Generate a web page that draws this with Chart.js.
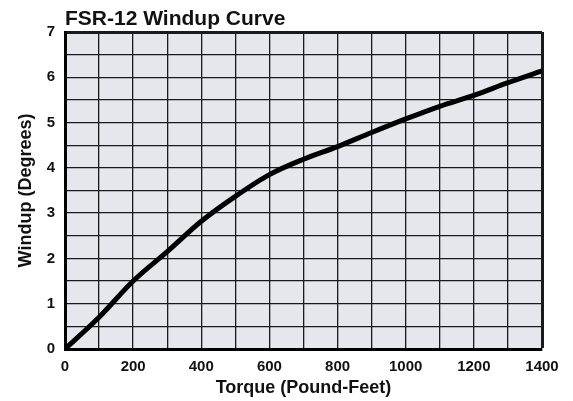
<!DOCTYPE html>
<html lang="en">

<head>
    <meta charset="UTF-8">
    <title>FSR-12 Windup Curve</title>
    <script src="https://cdn.jsdelivr.net/npm/chart.js"></script>
    <style>
        html, body {
            margin: 0;
            padding: 0;
            background: #fff;
        }

        #chart-container {
            width: 573px;
            height: 401px;
        }
    </style>
</head>

<body>
    <div id="chart-container">
        <canvas id="windupChart" width="573" height="401"></canvas>
    </div>

    <script>
        // Values
        const chartTitle = 'FSR-12 Windup Curve';
        const torque = [0, 100, 200, 300, 400, 500, 600, 700, 800, 900, 1000, 1100, 1200, 1300, 1400];
        const windup = [0, 0.7, 1.5, 2.15, 2.82, 3.37, 3.85, 4.19, 4.47, 4.78, 5.08, 5.36, 5.6, 5.88, 6.14];
        const xLabelEvery = 200;
        const xTitle = 'Torque (Pound-Feet)';
        const yTitle = 'Windup (Degrees)';

        const fontFamily = "Helvetica, Arial, 'Liberation Sans', sans-serif";

        // grey plot background, drawn under the grid
        const plotBackground = {
            id: 'plotBackground',
            beforeDraw(chart) {
                const { ctx, chartArea: a } = chart;
                ctx.save();
                ctx.fillStyle = '#e5e7ec';
                ctx.fillRect(a.left, a.top, a.right - a.left, a.bottom - a.top);
                ctx.restore();
            }
        };

        // title sits on the left edge of the plot, not the canvas
        const leftTitle = {
            id: 'leftTitle',
            afterDraw(chart) {
                const { ctx, chartArea: a } = chart;
                ctx.save();
                ctx.font = 'bold 21px ' + fontFamily;
                ctx.fillStyle = '#111';
                ctx.textBaseline = 'alphabetic';
                ctx.textAlign = 'left';
                ctx.fillText(chartTitle, a.left, 25);
                ctx.restore();
            }
        };

        const ctx = document.getElementById('windupChart').getContext('2d');

        new Chart(ctx, {
            type: 'line',
            data: {
                datasets: [{
                    data: torque.map((t, i) => ({ x: t, y: windup[i] })),
                    borderColor: '#000',
                    borderWidth: 5,
                    pointRadius: 0,
                    cubicInterpolationMode: 'monotone',
                    fill: false
                }]
            },
            options: {
                responsive: false,
                animation: false,
                layout: {
                    padding: { top: 32, right: 31, bottom: 2, left: 10 }
                },
                plugins: {
                    legend: { display: false },
                    tooltip: { enabled: false }
                },
                scales: {
                    x: {
                        type: 'linear',
                        min: 0,
                        max: 1400,
                        grid: {
                            color: '#1a1a1a',
                            lineWidth: c => c.tick && c.tick.value === 1400 ? 3 : 1.3,
                            drawTicks: false
                        },
                        border: { display: true, color: '#000', width: 3 },
                        ticks: {
                            stepSize: 100,
                            padding: 9,
                            maxRotation: 0,
                            autoSkip: false,
                            color: '#111',
                            font: { family: fontFamily, size: 15, weight: 'bold' },
                            callback: v => v % xLabelEvery === 0 ? v : ''
                        },
                        title: {
                            display: true,
                            text: xTitle,
                            color: '#111',
                            font: { family: fontFamily, size: 18, weight: 'bold' },
                            padding: { top: 1, bottom: 0 }
                        },
                        afterFit: s => { s.height = 50; }
                    },
                    y: {
                        min: 0,
                        max: 7,
                        grid: {
                            color: '#1a1a1a',
                            lineWidth: c => c.tick && c.tick.value === 7 ? 3 : 1.3,
                            drawTicks: false
                        },
                        border: { display: true, color: '#000', width: 3 },
                        ticks: {
                            stepSize: 0.5,
                            padding: 10,
                            autoSkip: false,
                            color: '#111',
                            font: { family: fontFamily, size: 15, weight: 'bold' },
                            callback: v => Number.isInteger(v) ? v : ''
                        },
                        title: {
                            display: true,
                            text: yTitle,
                            color: '#111',
                            font: { family: fontFamily, size: 18, weight: 'bold' },
                            padding: { top: 5, bottom: 0 }
                        },
                        afterFit: s => { s.width = 55; }
                    }
                }
            },
            plugins: [plotBackground, leftTitle]
        });
    </script>
</body>

</html>
